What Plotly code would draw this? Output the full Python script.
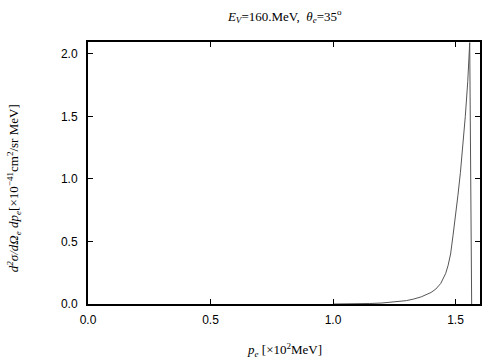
import plotly.graph_objects as go

# Curve data
p_e = [1.00, 1.05, 1.10, 1.15, 1.20, 1.26, 1.30, 1.33, 1.36, 1.40, 1.42, 1.44, 1.46,
       1.47, 1.48, 1.49, 1.50, 1.51, 1.52, 1.53, 1.54, 1.55, 1.558, 1.566]
dsigma = [0.0, 0.0, 0.002, 0.004, 0.008, 0.018, 0.027, 0.040, 0.057, 0.092, 0.12, 0.165, 0.245,
          0.31, 0.40, 0.55, 0.70, 0.87, 1.05, 1.26, 1.50, 1.78, 2.09, 0.0]

x_ticks = [0.0, 0.5, 1.0, 1.5]
y_ticks = [0.0, 0.5, 1.0, 1.5, 2.0]

fig = go.Figure()
fig.add_trace(go.Scatter(x=p_e, y=dsigma, mode="lines",
                         line=dict(color="#555555", width=1), showlegend=False,
                         hoverinfo="skip"))

serif = "Liberation Serif, Times New Roman, serif"
sans = "Liberation Sans, Arial, sans-serif"

fig.update_layout(
    width=504, height=360,
    margin=dict(l=88, r=24, t=42, b=56),
    paper_bgcolor="white", plot_bgcolor="white",
    font=dict(family=sans, size=12, color="black"),
    title=dict(text="<i>E<sub>V</sub></i>=160.MeV,  <i>θ<sub>e</sub></i>=35<sup>o</sup>",
               x=0.565, xanchor="center", y=0.955, yanchor="middle",
               font=dict(family=serif, size=13, color="black")),
    xaxis=dict(range=[0, 1.6], tickvals=x_ticks, ticktext=[f"{v:.1f}" for v in x_ticks],
               showgrid=False, zeroline=False, showline=True, linecolor="black", linewidth=2,
               mirror="ticks", ticks="inside", ticklen=5, tickcolor="black", tickwidth=1,
               ticklabelstandoff=4, tickfont=dict(family=sans, size=12)),
    yaxis=dict(range=[0, 2.095], tickvals=y_ticks, ticktext=[f"{v:.1f}" for v in y_ticks],
               showgrid=False, zeroline=False, showline=True, linecolor="black", linewidth=2,
               mirror="ticks", ticks="inside", ticklen=5, tickcolor="black", tickwidth=1,
               ticklabelstandoff=6, tickfont=dict(family=sans, size=12)),
    annotations=[
        dict(text="<i>p<sub>e</sub></i> [×10<sup>2</sup>MeV]", xref="paper", yref="paper",
             x=0.5, y=-0.175, xanchor="center", yanchor="middle", showarrow=False,
             font=dict(family=serif, size=13, color="black")),
        dict(text="<i>d<sup>2</sup>σ/dΩ<sub>e</sub> dp<sub>e</sub></i>[×10<sup>−41</sup>cm<sup>2</sup>/sr MeV]",
             xref="paper", yref="paper", x=-0.19, y=0.44, xanchor="center", yanchor="middle",
             textangle=-90, showarrow=False, font=dict(family=serif, size=13, color="black")),
    ],
)

fig.write_html("out.html", config={"displayModeBar": False},
               post_script="document.body.style.margin='0';document.body.style.padding='0';")
